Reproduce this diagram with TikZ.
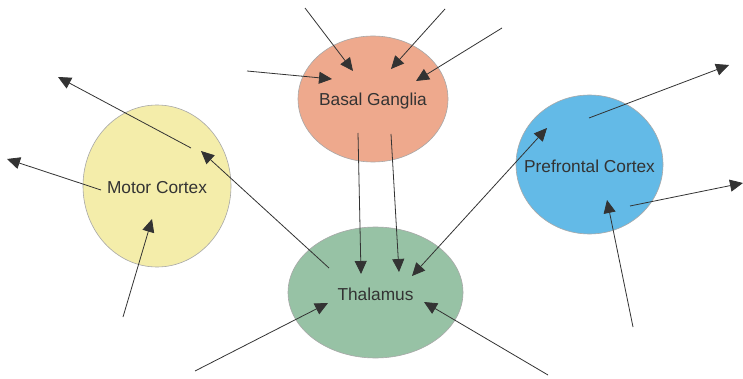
\documentclass[tikz,border=0pt]{standalone}
\usepackage{fontspec}
\setmainfont{Liberation Sans}
\usetikzlibrary{shapes.geometric,arrows.meta}
\definecolor{bgcol}{HTML}{EEA98D}
\definecolor{mccol}{HTML}{F4EDAA}
\definecolor{pfcol}{HTML}{63BAE7}
\definecolor{thcol}{HTML}{97C2A5}
\definecolor{ink}{HTML}{333333}
\definecolor{rim}{HTML}{A8A8A8}
\newcommand{\regiontext}[1]{\raisebox{-2pt}[\height][\depth]{\makebox[0pt]{#1}}}
\tikzset{
  region/.style={ellipse, draw=rim, line width=0.6pt, inner sep=0pt, text=ink,
    font=\fontsize{17.3}{20}\selectfont},
  link/.style={draw=ink, line width=0.8pt, -{Triangle[length=13pt,width=12pt]}},
  duallink/.style={draw=ink, line width=0.8pt, {Triangle[length=13pt,width=12pt]}-{Triangle[length=13pt,width=12pt]}}
}
\begin{document}
\begin{tikzpicture}[x=1pt,y=-1pt]
\useasboundingbox (0,0) rectangle (743,379);
\fill[white] (0,0) rectangle (743,379);
% regions
\node[region, fill=bgcol, minimum width=150pt, minimum height=126pt] (bg) at (373,99) {\regiontext{Basal Ganglia}};
\node[region, fill=mccol, minimum width=148pt, minimum height=162pt] (mc) at (157,186) {\regiontext{Motor Cortex}};
\node[region, fill=pfcol, minimum width=147pt, minimum height=139pt] (pf) at (589.5,164.5) {\regiontext{Prefrontal Cortex}};
\node[region, fill=thcol, minimum width=175pt, minimum height=131pt] (th) at (375.5,292.5) {\regiontext{Thalamus}};
% coordinates
\coordinate (a1s) at (305,8);   \coordinate (a1t) at (353,71);
\coordinate (a2s) at (445,9);   \coordinate (a2t) at (391,69);
\coordinate (a3s) at (502,28);  \coordinate (a3t) at (416,81);
\coordinate (a4s) at (247,71);  \coordinate (a4t) at (332,79);
\coordinate (b1s) at (358,133); \coordinate (b1t) at (361,274);
\coordinate (b2s) at (391,134); \coordinate (b2t) at (399,272);
\coordinate (c1) at (412,276);  \coordinate (c2) at (547,128);
\coordinate (d1s) at (329,268); \coordinate (d1t) at (201,151);
\coordinate (m1s) at (191,148); \coordinate (m1t) at (58,77);
\coordinate (m2s) at (101,190); \coordinate (m2t) at (7,159);
\coordinate (m3s) at (123,317); \coordinate (m3t) at (152,219);
\coordinate (p1s) at (589,118); \coordinate (p1t) at (729,65);
\coordinate (p2s) at (630,206); \coordinate (p2t) at (743,183);
\coordinate (p3s) at (633,327); \coordinate (p3t) at (607,200);
\coordinate (t1s) at (195,371); \coordinate (t1t) at (328,303);
\coordinate (t2s) at (548,375); \coordinate (t2t) at (424,302);
% connectors
\draw[link] (a1s) -- (a1t);
\draw[link] (a2s) -- (a2t);
\draw[link] (a3s) -- (a3t);
\draw[link] (a4s) -- (a4t);
\draw[link] (b1s) -- (b1t);
\draw[link] (b2s) -- (b2t);
\draw[duallink] (c1) -- (c2);
\draw[link] (d1s) -- (d1t);
\draw[link] (m1s) -- (m1t);
\draw[link] (m2s) -- (m2t);
\draw[link] (m3s) -- (m3t);
\draw[link] (p1s) -- (p1t);
\draw[link] (p2s) -- (p2t);
\draw[link] (p3s) -- (p3t);
\draw[link] (t1s) -- (t1t);
\draw[link] (t2s) -- (t2t);
\end{tikzpicture}
\end{document}
